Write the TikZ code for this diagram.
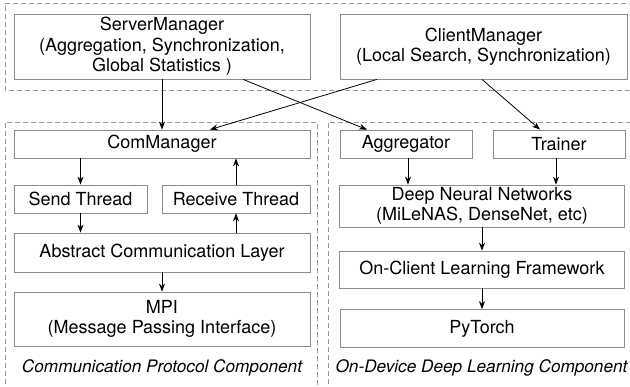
\documentclass[tikz,border=0pt]{standalone}
\usepackage{fontspec}
\setmainfont{TeX Gyre Heros}
\usetikzlibrary{arrows.meta}

\definecolor{boxgray}{gray}{0.55}
\definecolor{dashgray}{gray}{0.6}
\tikzset{
    box/.style={draw=boxgray, line width=0.8pt, inner sep=0pt, align=center,
        font=\fontsize{18}{20.5}\selectfont},
    part/.style={draw=dashgray, line width=0.8pt, dash pattern=on 5pt off 3pt},
    flow/.style={->, >={Stealth[length=8pt,width=6pt]}, line width=0.8pt},
    partlabel/.style={font=\fontsize{17.2}{20}\selectfont\itshape}
}

\begin{document}
\begin{tikzpicture}[x=1pt, y=-1pt]
    \useasboundingbox (0,0) rectangle (630,387);
    % dashed component frames
    \draw [part] (634,3) -- (5,3) -- (5,90) -- (634,90);
    \draw [part] (5,392) -- (5,122) -- (317,122) -- (317,392);
    \draw [part] (328,392) -- (328,122) -- (634,122);

    \node (sm) at (162,46.5) [box, minimum width=296pt, minimum height=65pt] {ServerManager\\(Aggregation, Synchronization,\\Global Statistics )};
    \node (clm) at (483.5,46.5) [box, minimum width=287pt, minimum height=65pt] {ClientManager\\(Local Search, Synchronization)};

    \node (cm) at (162,144) [box, minimum width=296pt, minimum height=28pt] {ComManager};
    \node (st) at (80.5,199) [box, minimum width=133pt, minimum height=28pt] {Send Thread};
    \node (rt) at (236,199) [box, minimum width=148pt, minimum height=28pt] {Receive Thread};
    \node (acl) at (162,252.5) [box, minimum width=296pt, minimum height=39pt] {Abstract Communication Layer};
    \node (mpi) at (162,319) [box, minimum width=296pt, minimum height=54pt] {MPI\\(Message Passing Interface)};
    \node (cpc) at (162,368) [partlabel] {Communication Protocol Component};

    \node (ag) at (406,144) [box, minimum width=132pt, minimum height=28pt] {Aggregator};
    \node (tr) at (559,144) [box, minimum width=132pt, minimum height=28pt] {Trainer};
    \node (dnn) at (482,206) [box, minimum width=285pt, minimum height=42pt] {Deep Neural Networks\\(MiLeNAS, DenseNet, etc)};
    \node (ocl) at (482,269.5) [box, minimum width=285pt, minimum height=37pt] {On-Client Learning Framework};
    \node (pt) at (482,328.5) [box, minimum width=284pt, minimum height=38pt] {PyTorch};
    \node (ddl) at (481.5,368) [partlabel] {On-Device Deep Learning Component};

    \draw [flow] (sm.south) -- (cm.north);
    \draw [flow] ([xshift=81pt]sm.south) -- ([xshift=-39pt]ag.north);
    \draw [flow] ([xshift=-106.5pt]clm.south) -- ([xshift=48pt]cm.north);
    \draw [flow] ([xshift=-1.5pt]clm.south) -- ([xshift=-19pt]tr.north);

    \draw [flow] (cm.south -| st.north) -- (st.north);
    \draw [flow] (st.south) -- (st.south |- acl.north);
    \draw [flow] (rt.south |- acl.north) -- (rt.south);
    \draw [flow] (rt.north) -- (rt.north |- cm.south);
    \draw [flow] (acl.south) -- (mpi.north);

    \draw [flow] ([xshift=2pt]ag.south) -- ([xshift=2pt]ag.south |- dnn.north);
    \draw [flow] ([xshift=-3pt]tr.south) -- ([xshift=-3pt]tr.south |- dnn.north);
    \draw [flow] (dnn.south) -- (ocl.north);
    \draw [flow] (ocl.south) -- (pt.north);
\end{tikzpicture}
\end{document}
